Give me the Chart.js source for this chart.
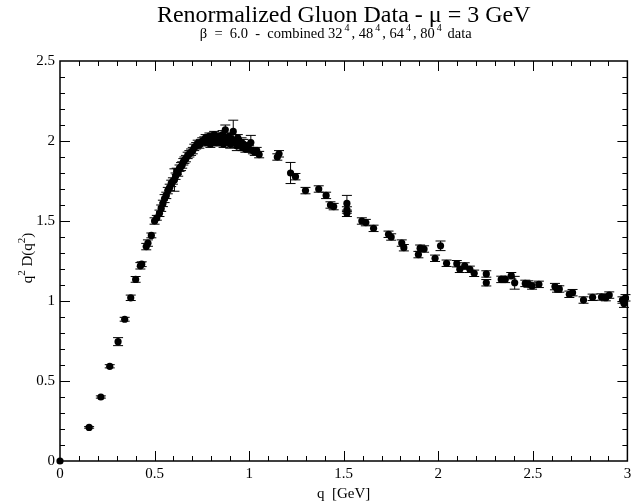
<!DOCTYPE html>
<html>
<head>
<meta charset="utf-8">
<title>Renormalized Gluon Data</title>
<script src="https://cdn.jsdelivr.net/npm/chart.js@4.4.1/dist/chart.umd.min.js"></script>
<style>
  html, body { margin: 0; padding: 0; background: #fff; }
</style>
</head>
<body>
<canvas id="gluon" width="631" height="504"></canvas>
<script>
// momentum q [GeV], renormalized dressing q^2 D(q^2) and its error
const momentum = [
    0, 0.154, 0.216, 0.263, 0.307, 0.342, 0.374, 0.400, 0.425, 0.432,
    0.456, 0.465, 0.483, 0.500, 0.512, 0.526, 0.535, 0.544, 0.553, 0.562,
    0.570, 0.580, 0.588, 0.597, 0.605, 0.611, 0.617, 0.625, 0.632, 0.640,
    0.646, 0.652, 0.658, 0.666, 0.675, 0.684, 0.693, 0.702, 0.710, 0.720,
    0.728, 0.737, 0.745, 0.752, 0.763, 0.770, 0.775, 0.780, 0.790, 0.795,
    0.800, 0.810, 0.815, 0.820, 0.830, 0.835, 0.840, 0.850, 0.855, 0.860,
    0.865, 0.874, 0.880, 0.890, 0.895, 0.900, 0.910, 0.916, 0.920, 0.930,
    0.935, 0.940, 0.950, 0.960, 0.965, 0.970, 0.980, 0.990, 1.000, 1.009,
    1.020, 1.030, 1.040, 1.053, 1.149, 1.158, 1.219, 1.245, 1.298, 1.368,
    1.407, 1.430, 1.447, 1.517, 1.517, 1.517, 1.596, 1.617, 1.658, 1.737,
    1.751, 1.807, 1.818, 1.895, 1.904, 1.925, 1.983, 2.012, 2.044, 2.098,
    2.114, 2.140, 2.167, 2.190, 2.254, 2.254, 2.333, 2.354, 2.386, 2.404,
    2.460, 2.477, 2.496, 2.532, 2.617, 2.628, 2.640, 2.693, 2.710, 2.768,
    2.816, 2.863, 2.886, 2.904, 2.974, 2.982, 2.990
];
const dressing = [
    0, 0.210, 0.400, 0.592, 0.746, 0.886, 1.020, 1.135, 1.220, 1.230,
    1.340, 1.362, 1.410, 1.500, 1.520, 1.548, 1.580, 1.610, 1.640, 1.660,
    1.690, 1.710, 1.735, 1.750, 1.756, 1.780, 1.810, 1.800, 1.830, 1.840,
    1.850, 1.870, 1.880, 1.890, 1.910, 1.920, 1.930, 1.940, 1.960, 1.970,
    1.985, 1.975, 1.990, 2.000, 2.006, 2.020, 1.990, 2.010, 2.030, 1.980,
    2.020, 2.000, 2.040, 1.990, 2.020, 2.000, 2.030, 1.990, 2.010, 2.040,
    1.980, 2.070, 2.010, 2.000, 2.030, 1.980, 2.010, 2.060, 1.990, 2.000,
    1.970, 2.020, 1.980, 1.990, 1.960, 1.980, 1.950, 1.970, 1.950, 1.990,
    1.940, 1.930, 1.940, 1.915, 1.900, 1.920, 1.800, 1.777, 1.690, 1.700,
    1.660, 1.600, 1.590, 1.610, 1.569, 1.548, 1.500, 1.490, 1.454, 1.417,
    1.400, 1.362, 1.333, 1.290, 1.330, 1.325, 1.267, 1.345, 1.236, 1.233,
    1.198, 1.219, 1.198, 1.173, 1.169, 1.114, 1.135, 1.135, 1.158, 1.114,
    1.110, 1.106, 1.094, 1.104, 1.090, 1.075, 1.075, 1.042, 1.052, 1.006,
    1.023, 1.025, 1.021, 1.037, 1.006, 0.985, 1.020
];
const dressingErr = [
    0, 0.005, 0.007, 0.010, 0.025, 0.012, 0.017, 0.018, 0.020, 0.015,
    0.020, 0.020, 0.015, 0.020, 0.015, 0.020, 0.020, 0.020, 0.025, 0.020,
    0.020, 0.020, 0.020, 0.020, 0.070, 0.020, 0.020, 0.020, 0.020, 0.025,
    0.020, 0.020, 0.020, 0.020, 0.020, 0.020, 0.020, 0.020, 0.020, 0.020,
    0.020, 0.020, 0.020, 0.020, 0.020, 0.020, 0.020, 0.020, 0.020, 0.020,
    0.020, 0.025, 0.020, 0.020, 0.020, 0.025, 0.020, 0.020, 0.020, 0.025,
    0.020, 0.030, 0.020, 0.025, 0.020, 0.025, 0.030, 0.070, 0.030, 0.020,
    0.030, 0.020, 0.020, 0.030, 0.020, 0.030, 0.020, 0.020, 0.020, 0.045,
    0.020, 0.020, 0.020, 0.020, 0.020, 0.020, 0.066, 0.020, 0.020, 0.020,
    0.020, 0.020, 0.020, 0.050, 0.020, 0.020, 0.020, 0.020, 0.020, 0.020,
    0.020, 0.020, 0.020, 0.020, 0.020, 0.020, 0.020, 0.030, 0.020, 0.020,
    0.020, 0.020, 0.020, 0.020, 0.020, 0.020, 0.020, 0.020, 0.020, 0.040,
    0.020, 0.020, 0.020, 0.020, 0.020, 0.020, 0.020, 0.020, 0.020, 0.020,
    0.020, 0.020, 0.020, 0.020, 0.020, 0.025, 0.020
];

const SERIF = '"Liberation Serif", "Times New Roman", serif';

// draw a run of [text, isSuperscript] pieces centred on x
function drawRich(ctx, pieces, x, y, size, supGap) {
    const supSize = Math.round(size * 0.7);
    const gap = supGap || 0;
    let total = 0;
    pieces.forEach(([t, sup]) => {
        ctx.font = (sup ? supSize : size) + 'px ' + SERIF;
        total += ctx.measureText(t).width + (sup ? gap : 0);
    });
    let cx = x - total / 2;
    ctx.textAlign = 'left';
    ctx.textBaseline = 'alphabetic';
    pieces.forEach(([t, sup]) => {
        ctx.font = (sup ? supSize : size) + 'px ' + SERIF;
        if (sup) cx += gap / 2;
        ctx.fillText(t, cx, sup ? y - size * 0.45 : y);
        cx += ctx.measureText(t).width + (sup ? gap / 2 : 0);
    });
}

// frame, inward ticks on all four sides
const frameTicks = {
    id: 'frameTicks',
    beforeDatasetsDraw(chart) {
        const { ctx, chartArea: a, scales: { x, y } } = chart;
        ctx.save();
        ctx.strokeStyle = '#000';
        ctx.lineWidth = 1;
        for (let i = 1; i < 30; i++) {
            const px = Math.round(x.getPixelForValue(i / 10)) + 0.5;
            const len = i % 5 === 0 ? 10 : 5;
            ctx.beginPath();
            ctx.moveTo(px, a.bottom); ctx.lineTo(px, a.bottom - len);
            ctx.moveTo(px, a.top); ctx.lineTo(px, a.top + len);
            ctx.stroke();
        }
        for (let i = 1; i < 25; i++) {
            const py = Math.round(y.getPixelForValue(i / 10)) + 0.5;
            const len = i % 5 === 0 ? 10 : 5;
            ctx.beginPath();
            ctx.moveTo(a.left, py); ctx.lineTo(a.left + len, py);
            ctx.moveTo(a.right, py); ctx.lineTo(a.right - len, py);
            ctx.stroke();
        }
        ctx.lineWidth = 1.5;
        ctx.strokeRect(a.left, a.top, a.right - a.left, a.bottom - a.top);
        ctx.restore();
    }
};

// vertical error bars with caps, under the markers
const errorBars = {
    id: 'errorBars',
    beforeDatasetsDraw(chart) {
        const { ctx, scales: { x, y } } = chart;
        ctx.save();
        ctx.strokeStyle = '#000';
        ctx.lineWidth = 1;
        const cap = 5;
        momentum.forEach((q, i) => {
            const e = dressingErr[i];
            if (!e) return;
            const px = x.getPixelForValue(q);
            const top = y.getPixelForValue(dressing[i] + e);
            const bot = y.getPixelForValue(dressing[i] - e);
            ctx.beginPath();
            ctx.moveTo(px, top); ctx.lineTo(px, bot);
            ctx.moveTo(px - cap, top); ctx.lineTo(px + cap, top);
            ctx.moveTo(px - cap, bot); ctx.lineTo(px + cap, bot);
            ctx.stroke();
        });
        ctx.restore();
    }
};

// titles and axis labels
const labels = {
    id: 'labels',
    afterDraw(chart) {
        const { ctx, chartArea: a } = chart;
        const cx = (a.left + a.right) / 2;
        ctx.save();
        ctx.fillStyle = '#000';
        drawRich(ctx, [['Renormalized Gluon Data - \u03bc = 3 GeV', false]], cx, 22, 24);
        drawRich(ctx, [
            ['\u03b2  =  6.0  -  combined 32', false], ['4', true],
            [', 48', false], ['4', true],
            [', 64', false], ['4', true],
            [', 80', false], ['4', true],
            [' data', false]
        ], cx - 8, 38, 14.5, 4);
        drawRich(ctx, [['q  [GeV]', false]], cx, 498, 15);
        ctx.translate(32, 258);
        ctx.rotate(-Math.PI / 2);
        drawRich(ctx, [['q', false], ['2', true], [' D(q', false], ['2', true], [')', false]], 0, 0, 15);
        ctx.restore();
    }
};

const tickFont = { family: SERIF, size: 15 };
const plainNumber = v => String(Math.round(v * 10) / 10);

new Chart(document.getElementById('gluon'), {
    type: 'scatter',
    data: {
        datasets: [{
            data: momentum.map((q, i) => ({ x: q, y: dressing[i] })),
            backgroundColor: '#000',
            borderColor: '#000',
            pointRadius: 3.6,
            pointHoverRadius: 3.6,
            borderWidth: 0,
            clip: false
        }]
    },
    options: {
        responsive: false,
        animation: false,
        events: [],
        layout: { padding: { top: 61, left: 0, right: 1, bottom: 0 } },
        plugins: { legend: { display: false }, tooltip: { enabled: false } },
        scales: {
            x: {
                type: 'linear', min: 0, max: 3,
                grid: { display: false, drawTicks: false },
                border: { display: false },
                ticks: { stepSize: 0.5, padding: 4, color: '#000', font: tickFont, callback: plainNumber },
                afterFit(s) { s.height = 43; s.paddingLeft = 0; s.paddingRight = 0; }
            },
            y: {
                type: 'linear', min: 0, max: 2.5,
                grid: { display: false, drawTicks: false },
                border: { display: false },
                ticks: { stepSize: 0.5, padding: 5, color: '#000', font: tickFont, callback: plainNumber },
                afterFit(s) { s.width = 60; s.paddingTop = 0; s.paddingBottom = 0; }
            }
        }
    },
    plugins: [frameTicks, errorBars, labels]
});
</script>
</body>
</html>
